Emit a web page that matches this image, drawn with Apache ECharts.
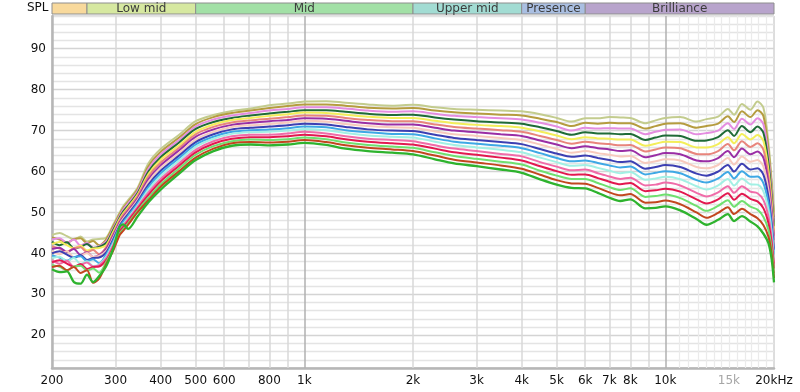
<!DOCTYPE html>
<html><head><meta charset="utf-8">
<script src="https://cdn.jsdelivr.net/npm/echarts@6/dist/echarts.min.js"></script>
<style>html,body{margin:0;padding:0;background:#fff}#c{width:800px;height:392px}</style>
</head><body><div id="c"></div>
<script>
const freqs = [200,210,220,230,240,250,260,270,283,295,308,315,325,345,370,400,450,500,560,630,710,800,900,1000,1150,1300,1500,1750,2000,2300,2600,3000,3500,4000,4500,5000,5500,6000,6500,7000,7500,8000,8800,9400,10000,11000,12200,13000,14000,14900,15500,16300,17200,18000,18700,19300,19700,20000];

const s00 = [36.1,35.4,35.6,33.0,32.6,34.8,33.0,34.4,37.0,41.0,46.5,47.1,46.0,49.0,52.5,55.6,59.5,62.8,65.0,66.3,66.6,66.4,66.6,67.0,66.5,65.6,65.0,64.6,64.2,63.0,62.0,61.3,60.5,59.7,58.1,56.8,56.0,55.9,54.8,53.6,52.8,53.2,51.0,51.1,51.5,50.5,48.4,47.0,48.2,49.6,47.9,49.1,47.8,46.6,44.8,42.5,38.6,32.9];
const s01 = [36.7,37.0,35.9,36.7,35.2,35.9,32.8,33.8,37.5,40.5,44.5,45.5,47.0,50.0,53.0,56.3,60.1,63.4,65.6,66.9,67.2,67.1,67.3,67.7,67.2,66.4,65.8,65.4,65.0,63.9,62.9,62.2,61.5,60.7,59.2,57.9,57.1,57.0,56.0,54.9,54.2,54.5,52.4,52.5,52.9,52.0,50.0,48.7,49.9,51.3,49.6,50.9,49.6,48.6,46.9,44.1,39.9,34.0];
const s02 = [37.2,36.7,35.9,36.8,37.0,35.8,36.3,35.3,38.0,41.0,44.9,45.9,47.4,50.4,53.6,56.9,60.8,64.1,66.2,67.4,67.8,67.7,67.9,68.3,67.9,67.1,66.5,66.1,65.8,64.7,63.8,63.1,62.4,61.7,60.2,59.0,58.2,58.2,57.2,56.2,55.5,55.9,53.8,54.0,54.4,53.5,51.6,50.4,51.6,53.0,51.4,52.8,51.4,50.7,48.9,45.8,41.2,35.2];
const s03 = [37.8,38.3,37.5,36.7,37.4,36.2,36.7,36.8,38.4,41.4,45.3,46.4,47.9,50.9,54.3,57.6,61.4,64.7,66.8,68.0,68.4,68.4,68.6,69.0,68.6,67.9,67.3,66.9,66.6,65.6,64.7,64.1,63.4,62.7,61.3,60.1,59.2,59.3,58.4,57.5,56.9,57.2,55.2,55.4,55.8,55.1,53.2,52.2,53.2,54.7,53.1,54.6,53.3,52.7,51.0,47.4,42.5,36.3];
const s04 = [38.3,37.5,38.2,36.7,37.1,37.8,36.8,37.1,38.9,41.9,45.7,46.8,48.3,51.3,54.9,58.2,62.0,65.3,67.4,68.6,69.0,69.0,69.3,69.7,69.3,68.6,68.0,67.7,67.4,66.4,65.6,65.0,64.3,63.7,62.3,61.2,60.3,60.5,59.6,58.8,58.2,58.5,56.6,56.8,57.3,56.6,54.8,53.9,54.9,56.4,54.8,56.4,55.1,54.7,53.0,49.0,43.8,37.5];
const s05 = [38.9,39.2,38.1,38.9,37.4,38.1,36.9,37.3,39.3,42.3,46.1,47.2,48.7,51.7,55.6,58.9,62.7,66.0,68.0,69.2,69.6,69.7,70.0,70.4,70.1,69.4,68.8,68.5,68.3,67.3,66.5,65.9,65.3,64.7,63.4,62.3,61.4,61.6,60.9,60.2,59.6,59.9,58.0,58.3,58.7,58.1,56.4,55.6,56.6,58.2,56.6,58.3,56.9,56.8,55.1,50.7,45.1,38.6];
const s06 = [39.5,39.0,38.2,39.1,39.3,38.1,38.6,37.6,39.8,42.8,46.5,47.7,49.2,52.2,56.2,59.6,63.3,66.6,68.5,69.7,70.1,70.3,70.6,71.0,70.8,70.1,69.6,69.2,69.1,68.1,67.3,66.8,66.3,65.7,64.5,63.3,62.5,62.7,62.1,61.5,61.0,61.2,59.3,59.7,60.1,59.6,57.9,57.3,58.3,59.9,58.3,60.1,58.7,58.8,57.1,52.3,46.3,39.7];
const s07 = [40.0,40.5,39.7,38.9,39.6,38.4,38.9,39.0,40.3,43.3,46.8,48.1,49.6,52.6,56.8,60.2,63.9,67.2,69.1,70.3,70.7,71.0,71.3,71.7,71.5,70.9,70.3,70.0,69.9,69.0,68.2,67.7,67.2,66.7,65.5,64.4,63.6,63.9,63.3,62.8,62.3,62.5,60.7,61.1,61.6,61.1,59.5,59.0,60.0,61.6,60.0,61.9,60.5,60.8,59.2,53.9,47.6,40.9];
const s08 = [40.6,39.8,40.5,39.0,39.4,40.1,39.1,39.4,40.7,43.7,47.2,48.5,50.0,53.0,57.5,60.9,64.5,67.8,69.7,70.9,71.3,71.6,72.0,72.4,72.2,71.6,71.1,70.8,70.7,69.8,69.1,68.7,68.2,67.7,66.6,65.5,64.6,65.0,64.5,64.1,63.7,63.8,62.1,62.5,63.0,62.7,61.1,60.8,61.6,63.3,61.7,63.7,62.4,62.8,61.2,55.5,48.9,42.0];
const s09 = [41.1,41.4,40.3,41.1,39.6,40.3,39.1,39.5,41.2,44.2,47.6,48.9,50.4,53.4,58.1,61.5,65.2,68.5,70.3,71.4,71.9,72.3,72.6,73.0,72.9,72.4,71.8,71.5,71.5,70.7,70.0,69.6,69.1,68.7,67.6,66.6,65.7,66.2,65.7,65.4,65.0,65.2,63.5,64.0,64.5,64.2,62.7,62.5,63.3,65.0,63.5,65.6,64.2,64.9,63.3,57.2,50.2,43.2];
const s10 = [41.7,41.2,40.4,41.3,41.5,40.3,40.8,39.8,41.6,44.6,48.0,49.4,50.9,53.9,58.8,62.2,65.8,69.1,70.9,72.0,72.5,72.9,73.3,73.7,73.6,73.1,72.6,72.3,72.3,71.5,70.9,70.5,70.1,69.7,68.7,67.7,66.8,67.3,66.9,66.7,66.4,66.5,64.9,65.4,65.9,65.7,64.3,64.2,65.0,66.7,65.2,67.4,66.0,66.9,65.3,58.8,51.5,44.3];
const s11 = [42.3,42.8,42.0,41.2,41.9,40.7,41.2,41.3,42.1,45.1,48.4,49.8,51.3,54.3,59.4,62.9,66.4,69.7,71.5,72.6,73.1,73.6,74.0,74.4,74.3,73.9,73.4,73.1,73.1,72.4,71.8,71.4,71.1,70.7,69.8,68.8,67.9,68.4,68.1,68.0,67.8,67.8,66.3,66.8,67.3,67.2,65.9,65.9,66.7,68.4,66.9,69.2,67.8,68.9,67.4,60.4,52.8,45.4];
const s12 = [42.8,42.0,42.7,41.2,41.6,42.3,41.3,41.6,42.6,45.6,48.8,50.2,51.7,54.7,60.0,63.5,67.1,70.4,72.1,73.1,73.7,74.2,74.6,75.0,75.0,74.6,74.1,73.8,73.9,73.2,72.7,72.3,72.0,71.7,70.8,69.9,69.0,69.6,69.3,69.3,69.1,69.2,67.7,68.3,68.8,68.7,67.5,67.6,68.4,70.1,68.7,71.1,69.6,71.0,69.4,62.1,54.1,46.6];
const s13 = [43.4,43.7,42.6,43.4,41.9,42.6,41.4,41.8,43.0,46.0,49.2,50.7,52.2,55.2,60.7,64.2,67.7,71.0,72.7,73.7,74.3,74.9,75.3,75.7,75.7,75.4,74.9,74.6,74.7,74.1,73.6,73.3,73.0,72.7,71.9,71.0,70.0,70.7,70.5,70.6,70.5,70.5,69.1,69.7,70.2,70.3,69.1,69.4,70.0,71.8,70.4,72.9,71.5,73.0,71.5,63.7,55.4,47.7];
const s14 = [43.9,43.4,42.6,43.5,43.7,42.5,43.0,42.0,43.5,46.5,49.6,51.1,52.6,55.6,61.3,64.8,68.3,71.6,73.3,74.3,74.9,75.5,76.0,76.4,76.4,76.1,75.6,75.4,75.5,74.9,74.5,74.2,73.9,73.7,72.9,72.1,71.1,71.9,71.7,71.9,71.8,71.8,70.5,71.1,71.7,71.8,70.7,71.1,71.7,73.5,72.1,74.7,73.3,75.0,73.5,65.3,56.7,48.9];
const s15 = [44.5,45.0,44.2,43.4,44.1,42.9,43.4,43.5,43.9,46.9,50.0,51.5,53.0,56.0,62.0,65.5,69.0,72.3,73.8,74.8,75.4,76.2,76.6,77.1,77.2,76.8,76.4,76.1,76.3,75.7,75.3,75.1,74.9,74.7,74.0,73.1,72.2,73.0,73.0,73.3,73.2,73.1,71.8,72.5,73.1,73.3,72.2,72.8,73.4,75.3,73.9,76.5,75.1,77.1,75.5,67.0,58.0,50.0];

const curves = [s15,s14,s13,s12,s11,s10,s09,s08,s07,s06,s05,s04,s03,s02,s01,s00];
const curveColors = ['#c3cc8e','#b59c3f','#e48de0','#1f6b37','#f3ee5a','#e8857c','#9a2ea5','#f7cabd','#3c3fb2','#3ea8e5','#a2f0e4','#f06ca9','#e2184f','#6fe06f','#c2461f','#2eb32e'];

const xTickValues = [200,300,400,500,600,800,1000,2000,3000,4000,5000,6000,7000,8000,10000,15000,20000];
const xTickLabels = ['200','300','400','500','600','800','1k','2k','3k','4k','5k','6k','7k','8k','10k','15k','20kHz'];
const xGridMain = [300,400,500,600,700,800,900,2000,3000,4000,5000,6000,7000,8000,9000];
const xGridMajor = [1000,10000];
const xGridFine = [10900,11600,12300,13000,13700,14300,15000,15800,16600,17300,18100,19000];

const bandNames = ['','Low mid','Mid','Upper mid','Presence','Brilliance'];
const bandStarts = [200,250,500,2000,4000,6000];
const bandEnds = [250,500,2000,4000,6000,20000];
const bandColors = ['#f8d99c','#d6e8a0','#a2e0a6','#a2dcd3','#aabfe2','#b8a4cc'];

const FONT = 'DejaVu Sans';
const chart = echarts.init(document.getElementById('c'));

const series = [];
series.push({
  type:'line', data:[], silent:true, z:1,
  markLine:{silent:true, symbol:'none', animation:false, z:1, label:{show:false},
    data:[].concat(
      xGridMain.map(v=>({xAxis:v, lineStyle:{color:'#d9d9d9', width:1.5, type:'solid'}})),
      xGridMajor.map(v=>({xAxis:v, lineStyle:{color:'#b0b0b0', width:1.5, type:'solid'}})),
      xGridFine.map(v=>({xAxis:v, lineStyle:{color:'#ebebeb', width:1.2, type:'solid'}}))
    )}
});
series.push({
  type:'line', data:[], silent:true, z:1, clip:false,
  markLine:{silent:true, symbol:'none', animation:false, z:1,
    lineStyle:{color:'rgba(255,255,255,0)', width:0.01, type:'solid'},
    label:{show:true, position:'start', distance:7, fontSize:12, fontFamily:FONT, color:'#111'},
    data: xTickValues.map((v,i)=>({xAxis:v,
      label:{show:true, position:'start', distance:7, formatter:xTickLabels[i],
        color: v===15000 ? '#a6a6a6' : '#111', fontSize:12, fontFamily:FONT}}))}
});
curves.forEach((d,i)=>{
  series.push({type:'line', data:freqs.map((f,j)=>[f,d[j]]), showSymbol:false, smooth:0.3,
    silent:true, z:2+i, lineStyle:{width: i===curves.length-1 ? 2.3 : 2, color:curveColors[i]},
    itemStyle:{color:curveColors[i]}});
});
series.push({
  type:'line', xAxisIndex:1, yAxisIndex:1, data:[], silent:true,
  markArea:{silent:true, animation:false,
    label:{show:true, position:'inside', color:'#3c3c3c', fontSize:12, fontFamily:FONT},
    data: bandNames.map((n,i)=>[
      {xAxis:bandStarts[i], name:n, itemStyle:{color:bandColors[i], borderColor:'#8e8e8e', borderWidth:1}},
      {xAxis:bandEnds[i]}
    ])}
});

chart.setOption({
  animation:false,
  backgroundColor:'#fff',
  textStyle:{fontFamily:FONT},
  grid:[
    {left:52, right:26, top:16, bottom:24, show:true, borderColor:'#bcbcbc', borderWidth:1, backgroundColor:'#fff'},
    {left:52, right:26, top:3, height:11}
  ],
  xAxis:[
    {type:'log', logBase:10, min:200, max:20000, axisLine:{show:true, onZero:false, lineStyle:{color:'#b6b6b6', width:2.5}},
      axisTick:{show:false}, axisLabel:{show:false}, splitLine:{show:false}},
    {type:'log', gridIndex:1, min:200, max:20000, show:false}
  ],
  yAxis:[
    {type:'value', min:12, max:98, interval:2,
      axisLine:{show:true, lineStyle:{color:'#b6b6b6', width:2.5}}, axisTick:{show:false},
      axisLabel:{formatter:v=> (v%10===0 ? String(v) : ''), color:'#111', fontSize:12, fontFamily:FONT, margin:6},
      splitLine:{show:true, lineStyle:{color:['#e4e4e4','#e4e4e4','#e4e4e4','#e4e4e4','#d4d4d4'], width:1.3}}},
    {type:'value', gridIndex:1, min:0, max:1, show:false}
  ],
  graphic:[{type:'text', left:27, top:2, style:{text:'SPL', font:'12px "DejaVu Sans"', fill:'#111'}}],
  series: series
});
</script></body></html>
